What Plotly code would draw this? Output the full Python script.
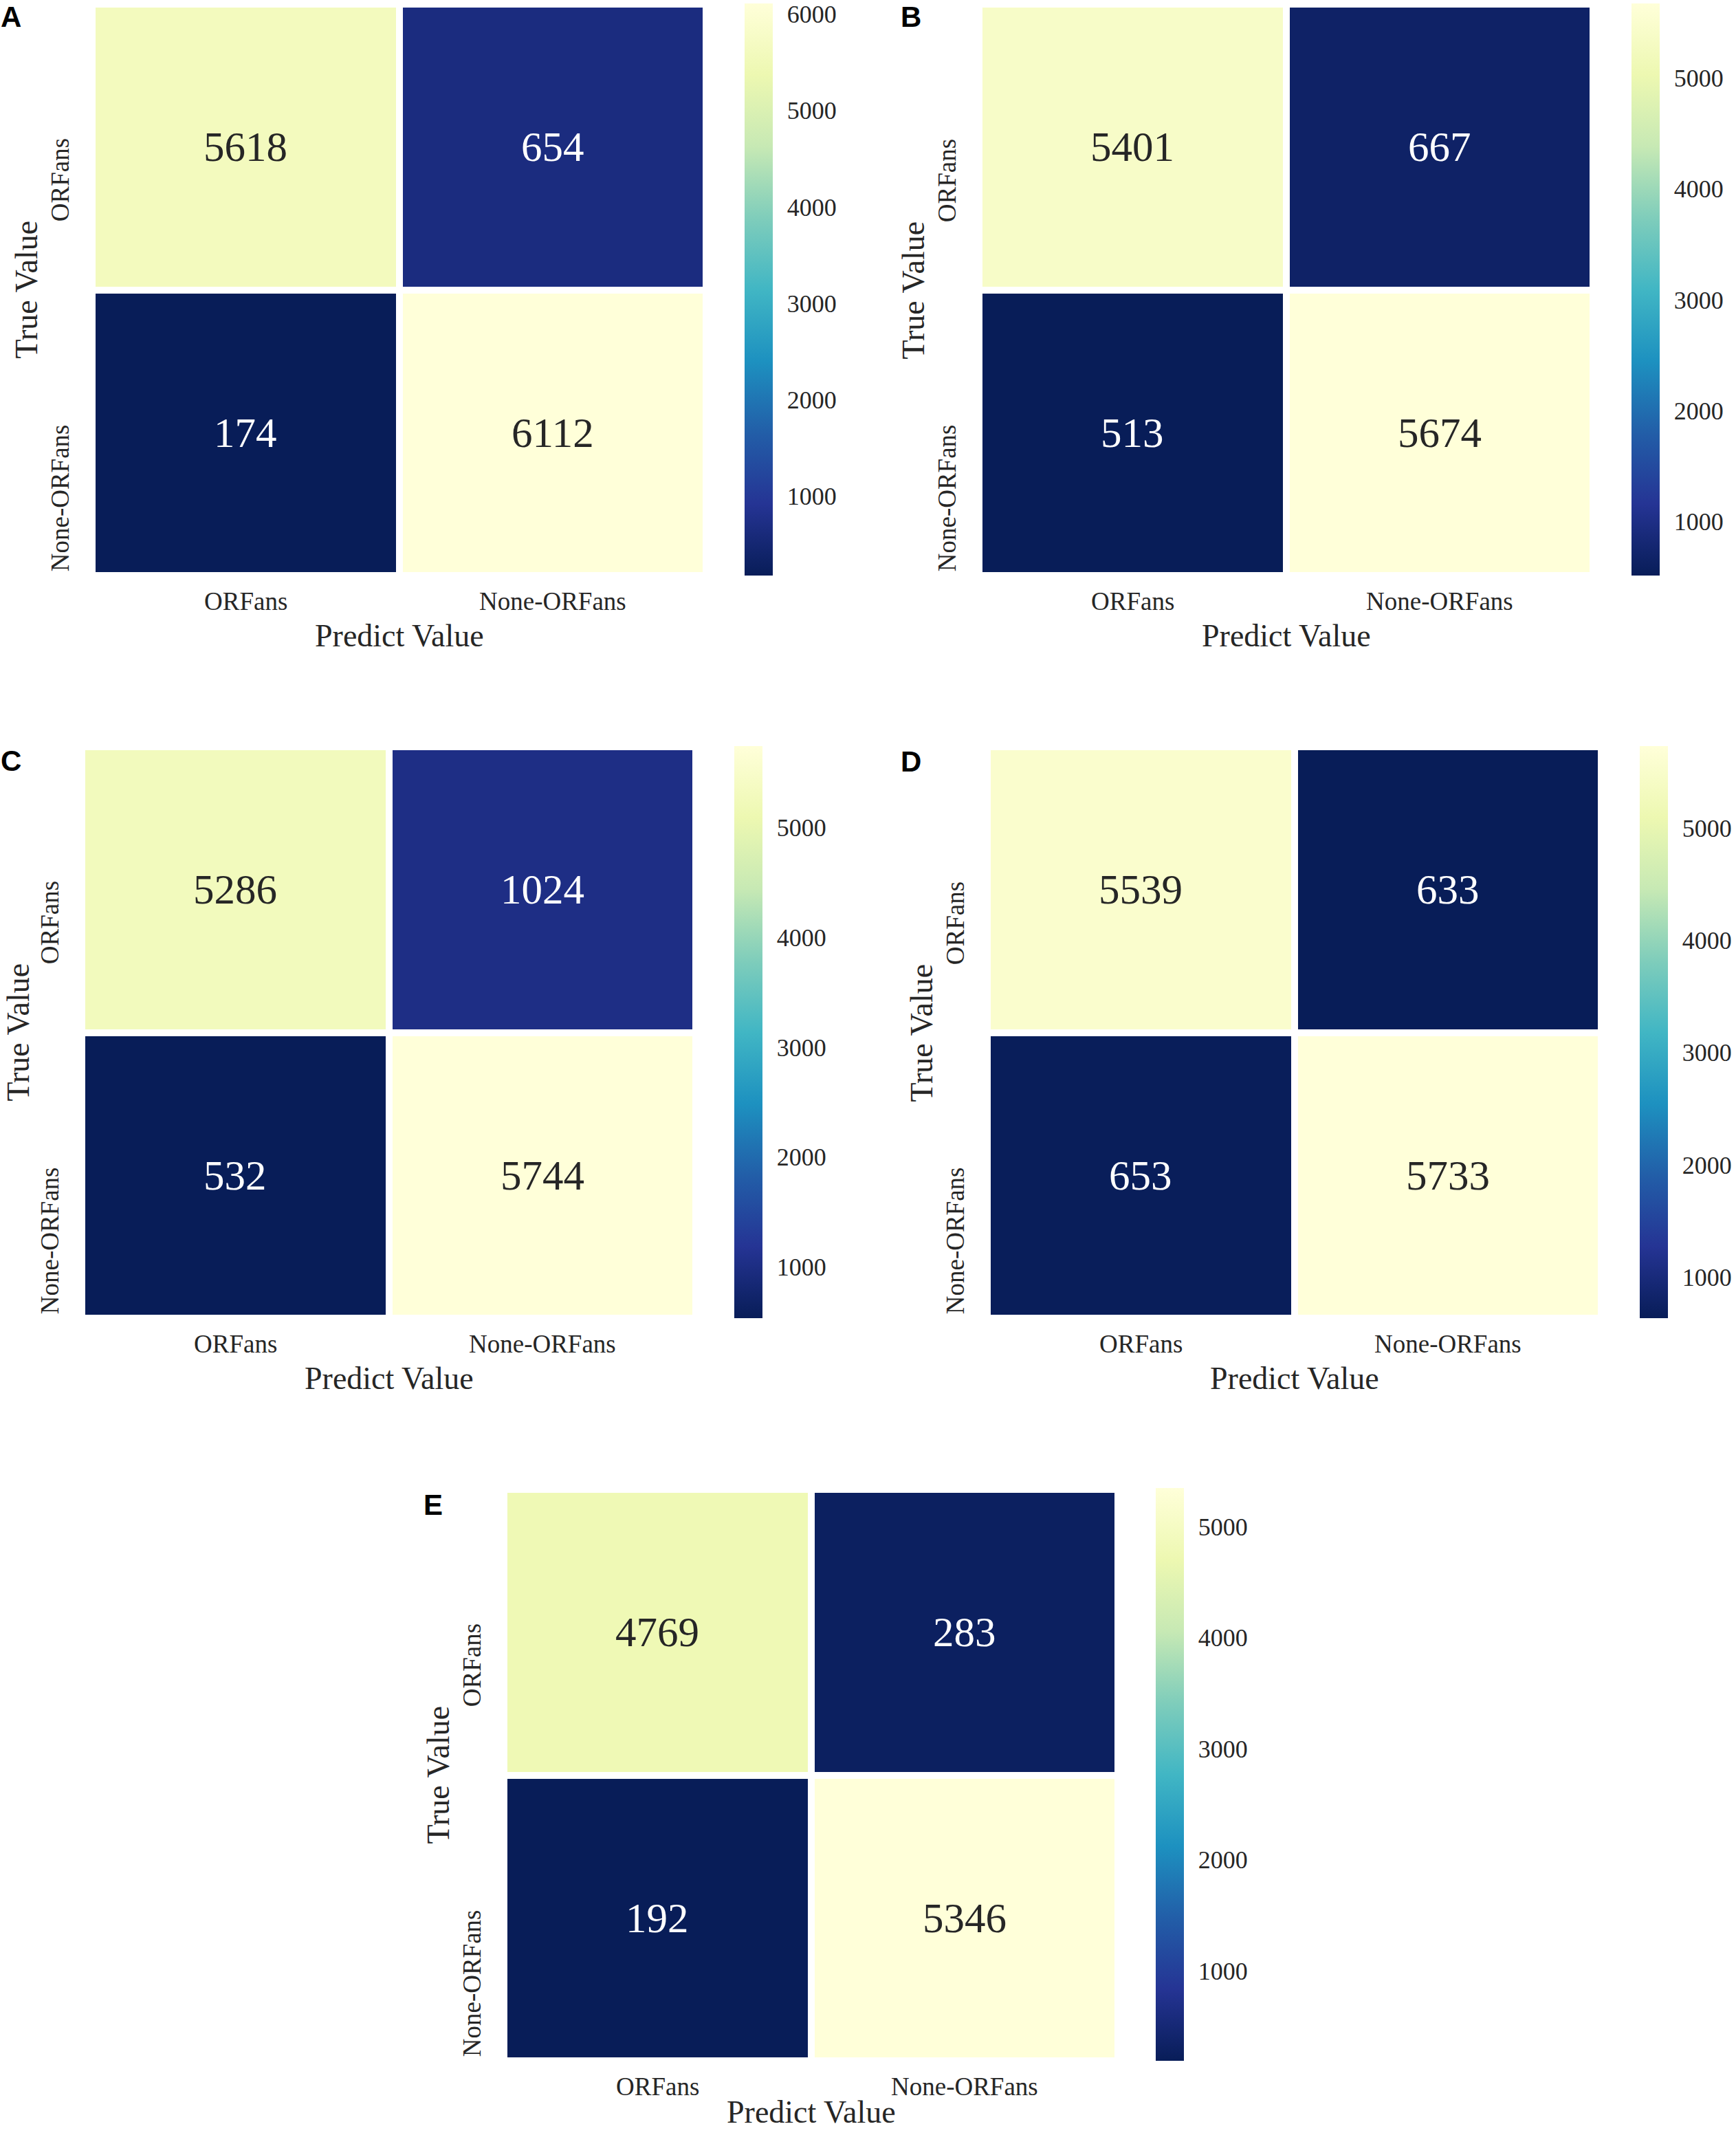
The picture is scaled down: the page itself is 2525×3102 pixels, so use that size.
import plotly.graph_objects as go

# confusion matrices (rows = true value, cols = predicted value)
labels = ["ORFans", "None-ORFans"]
panel_names = ["A", "B", "C", "D", "E"]
cm_a = [[5618, 654], [174, 6112]]
cm_b = [[5401, 667], [513, 5674]]
cm_c = [[5286, 1024], [532, 5744]]
cm_d = [[5539, 633], [653, 5733]]
cm_e = [[4769, 283], [192, 5346]]
cbar_ticks = [1000, 2000, 3000, 4000, 5000, 6000]

W, H = 2525, 3102
SERIF = "Liberation Serif, Times New Roman, serif"
GAP = 10  # white lines between cells (px)

# pixel boxes (visible edges): heatmap x0,x1,y0,y1 / colorbar x0,y0,y1 / letter x,y
boxes = [
    dict(hx=(139, 1022), hy=(11, 832), cbx=1083, cby=(5, 837), let=(0, 0)),
    dict(hx=(1429, 2312), hy=(11, 832), cbx=2373, cby=(5, 837), let=(1309, 0)),
    dict(hx=(124, 1007), hy=(1091, 1912), cbx=1068, cby=(1085, 1917), let=(0, 1082)),
    dict(hx=(1441, 2324), hy=(1091, 1912), cbx=2385, cby=(1085, 1917), let=(1309, 1083)),
    dict(hx=(738, 1621), hy=(2171, 2992), cbx=1681, cby=(2164, 2997), let=(615, 2164)),
]
pred_shift = [-87, -87, -87, -87, -74]
true_shift = [-96, -96, -93, -96, -96]

# matplotlib YlGnBu, dark for low values
ylgnbu = ['#081d58', '#253494', '#225ea8', '#1d91c0', '#41b6c4',
          '#7fcdbb', '#c7e9b4', '#edf8b1', '#ffffd9']
cscale = [[i / 8, c] for i, c in enumerate(ylgnbu)]

fig = go.Figure()
annots = []
mats = [cm_a, cm_b, cm_c, cm_d, cm_e]

for k, (name, cm, b) in enumerate(zip(panel_names, mats, boxes)):
    sfx = "" if k == 0 else str(k + 1)
    xa, ya = "x" + sfx, "y" + sfx
    zmin = min(min(r) for r in cm)
    zmax = max(max(r) for r in cm)
    fig.add_trace(go.Heatmap(
        z=cm, x=labels, y=labels, xaxis=xa, yaxis=ya,
        colorscale=cscale, zmin=zmin, zmax=zmax, xgap=GAP, ygap=GAP,
        hoverinfo="skip",
        colorbar=dict(
            x=b["cbx"] / W, xanchor="left", xpad=0, ypad=0,
            y=1 - b["cby"][0] / H, yanchor="top",
            len=(b["cby"][1] - b["cby"][0]) / H, lenmode="fraction",
            thickness=41, thicknessmode="pixels", outlinewidth=0,
            tickvals=cbar_ticks, ticks="outside", ticklen=14, tickcolor="white",
            tickfont=dict(family=SERIF, size=36, color="#262626"),
        ),
    ))
    # grow the domain by half a gap so the visible bricks hit the measured edges
    x0, x1 = b["hx"][0] - GAP / 2, b["hx"][1] + GAP / 2
    y0, y1 = b["hy"][0] - GAP / 2, b["hy"][1] + GAP / 2
    fig.update_layout(**{
        "xaxis" + sfx: dict(domain=[x0 / W, x1 / W], anchor=ya,
                            showgrid=False, zeroline=False, showticklabels=False,
                            ticks="", showline=False),
        "yaxis" + sfx: dict(domain=[1 - y1 / H, 1 - y0 / H], anchor=xa,
                            autorange="reversed", showgrid=False, zeroline=False,
                            showticklabels=False, ticks="", showline=False),
    })

    # cell values
    for i, row_lab in enumerate(labels):
        for j, col_lab in enumerate(labels):
            v = cm[i][j]
            light = (v - zmin) / (zmax - zmin) > 0.5
            annots.append(dict(x=col_lab, y=row_lab, xref=xa, yref=ya, text=str(v),
                               showarrow=False,
                               font=dict(family=SERIF, size=61,
                                         color="#262626" if light else "white")))
    # tick labels
    for lab in labels:
        annots.append(dict(x=lab, y=0, xref=xa, yref=ya + " domain", yshift=-37,
                           yanchor="middle", text=lab, showarrow=False,
                           font=dict(family=SERIF, size=37, color="#262626")))
        annots.append(dict(x=0, y=lab, xref=xa + " domain", yref=ya, xshift=-47,
                           xanchor="center", yanchor="top", yshift=14, textangle=-90,
                           text=lab, showarrow=False,
                           font=dict(family=SERIF, size=37, color="#262626")))
    # axis titles
    annots.append(dict(x=0.5, y=0, xref=xa + " domain", yref=ya + " domain",
                       yshift=pred_shift[k], yanchor="middle", text="Predict Value",
                       showarrow=False, borderpad=0,
                       font=dict(family=SERIF, size=46, color="#262626")))
    annots.append(dict(x=0, y=0.5, xref=xa + " domain", yref=ya + " domain",
                       xshift=true_shift[k], xanchor="center", textangle=-90,
                       text="True Value", showarrow=False, borderpad=0,
                       font=dict(family=SERIF, size=46, color="#262626")))
    # panel letter
    annots.append(dict(x=b["let"][0] / W, y=1 - b["let"][1] / H, xref="paper", yref="paper",
                       xanchor="left", yanchor="top", text="<b>" + name + "</b>",
                       showarrow=False, borderpad=0,
                       font=dict(family="Liberation Sans, Arial, sans-serif", size=42,
                                 color="black")))

fig.update_layout(
    width=W, height=H,
    margin=dict(l=0, r=0, t=0, b=0),
    paper_bgcolor="white", plot_bgcolor="white",
    annotations=annots,
)

# drop the default page margin so the figure sits flush in the window
fig.write_html("out.html", config={"displayModeBar": False},
               post_script="document.body.style.margin='0';document.body.style.overflow='hidden';")
